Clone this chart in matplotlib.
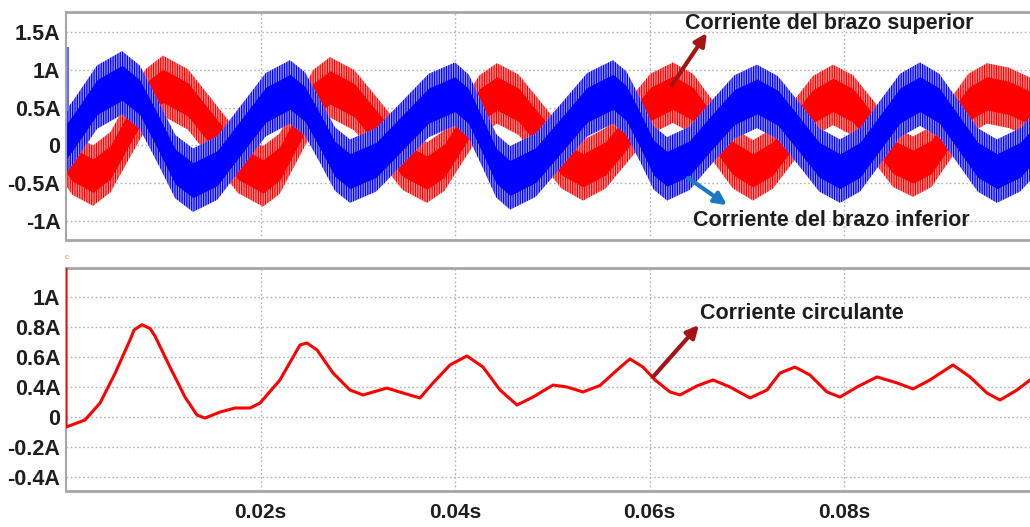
import numpy as np
import matplotlib
matplotlib.use("Agg")
import matplotlib.pyplot as plt

# ---- arm currents (band centre, A) -------------------------------------
lower_arm_t_ms = [0.00, 0.82, 3.19, 5.76, 7.58, 9.41, 11.23, 13.06, 15.55, 18.05,
                  20.54, 23.03, 24.58, 26.12, 27.66, 29.20, 31.90, 34.60, 37.30, 40.00,
                  41.41, 42.83, 44.24, 45.66, 48.30, 50.95, 53.60, 56.25, 57.63, 59.02,
                  60.41, 61.80, 64.11, 66.43, 68.74, 71.05, 73.19, 75.32, 77.45, 79.59,
                  81.65, 83.70, 85.76, 87.81, 89.79, 91.77, 93.75, 95.73, 98.10, 99.13,
                  100.57]
lower_arm_A = [0.05, 0.19, 0.64, 0.83, 0.64, 0.19, -0.28, -0.46, -0.30, 0.12,
               0.54, 0.71, 0.55, 0.19, -0.18, -0.34, -0.19, 0.17, 0.53, 0.68,
               0.52, 0.13, -0.27, -0.43, -0.26, 0.14, 0.54, 0.71, 0.56, 0.21,
               -0.16, -0.31, -0.17, 0.18, 0.51, 0.65, 0.50, 0.16, -0.19, -0.34,
               -0.19, 0.17, 0.53, 0.68, 0.53, 0.17, -0.19, -0.34, -0.19, -0.05,
               0.17]
lower_arm_ripple_A = 0.42
lower_arm_start_spike_A = 1.29

upper_arm_t_ms = [0.00, 0.62, 2.78, 4.58, 6.38, 8.17, 9.97, 12.54, 15.12, 17.69,
                  20.26, 21.98, 23.70, 25.42, 27.15, 29.64, 32.13, 34.63, 37.12, 38.92,
                  40.72, 42.52, 44.32, 46.53, 48.74, 50.95, 53.16, 55.48, 57.79, 60.10,
                  62.42, 64.47, 66.53, 68.59, 70.64, 72.70, 74.76, 76.81, 78.87, 80.93,
                  82.98, 85.04, 87.10, 89.00, 90.90, 92.80, 94.70, 96.97, 99.13, 100.57]
upper_arm_A = [-0.13, -0.25, -0.40, -0.22, 0.20, 0.61, 0.79, 0.61, 0.19, -0.23,
               -0.41, -0.24, 0.18, 0.60, 0.77, 0.60, 0.21, -0.19, -0.36, -0.20,
               0.17, 0.53, 0.69, 0.54, 0.19, -0.17, -0.33, -0.17, 0.19, 0.55,
               0.70, 0.55, 0.19, -0.17, -0.33, -0.17, 0.18, 0.52, 0.67, 0.53,
               0.20, -0.15, -0.28, -0.15, 0.21, 0.55, 0.69, 0.63, 0.50, 0.39]
upper_arm_ripple_A = 0.40

# ---- circulating current --------------------------------------------
circ_t_ms = [0.0, 0.0, 1.95, 3.50, 5.04, 6.58, 7.00, 7.81, 8.64, 9.15,
             10.69, 12.24, 13.47, 14.29, 15.84, 17.38, 18.92, 19.95, 22.00, 24.06,
             24.78, 25.81, 27.46, 29.20, 30.54, 33.00, 34.65, 36.40, 37.74, 39.49,
             41.23, 42.88, 44.63, 46.38, 48.02, 50.08, 51.52, 53.16, 54.91, 56.66,
             57.99, 59.33, 60.57, 62.11, 63.14, 64.88, 66.53, 68.28, 70.33, 72.08,
             73.42, 74.96, 76.50, 78.25, 79.59, 81.34, 83.39, 85.45, 87.10, 88.84,
             91.21, 92.96, 94.70, 96.04, 97.79, 99.13, 100.5]
circ_A = [1.25, 0.133, 0.18, 0.293, 0.49, 0.713, 0.78, 0.815, 0.79, 0.74,
          0.533, 0.333, 0.213, 0.193, 0.233, 0.26, 0.26, 0.293, 0.447, 0.68,
          0.693, 0.647, 0.493, 0.38, 0.347, 0.393, 0.36, 0.327, 0.427, 0.547,
          0.607, 0.533, 0.38, 0.28, 0.333, 0.413, 0.40, 0.367, 0.41, 0.513,
          0.587, 0.533, 0.447, 0.367, 0.347, 0.407, 0.447, 0.40, 0.327, 0.38,
          0.493, 0.533, 0.48, 0.367, 0.333, 0.40, 0.467, 0.427, 0.387, 0.447,
          0.547, 0.467, 0.36, 0.313, 0.38, 0.447, 0.50]

# ---- axes ticks -------------------------------------------------------
x_ticks_s = [0.02, 0.04, 0.06, 0.08]
x_tick_labels = ["0.02s", "0.04s", "0.06s", "0.08s"]
top_y_ticks = [1.5, 1.0, 0.5, 0.0, -0.5, -1.0]
top_y_labels = ["1.5A", "1A", "0.5A", "0", "-0.5A", "-1A"]
bot_y_ticks = [1.0, 0.8, 0.6, 0.4, 0.2, 0.0, -0.2]
bot_y_labels = ["1A", "0.8A", "0.6A", "0.4A", "0", "-0.2A", "-0.4A"]

FONT = "Liberation Sans"
TXT = "#1e1e1e"
GRID = "#b4b4b4"
SPINE = "#a6a6a6"
FS = 15.5

plt.rcParams["hatch.linewidth"] = 0.9

W, H = 1030, 527
fig = plt.figure(figsize=(W / 100, H / 100), dpi=100)
x0 = 66 / W
axw = 972.5 / W
ax1 = fig.add_axes([x0, 1 - 240 / H, axw, 228 / H])
ax2 = fig.add_axes([x0, 1 - 491 / H, axw, 223 / H])


def style(ax, yticks, ylabels, ylim, show_x):
    ax.set_xlim(0, 0.1)
    ax.set_ylim(*ylim)
    ax.set_yticks(yticks)
    ax.set_yticklabels(ylabels)
    ax.set_xticks(x_ticks_s)
    ax.set_xticklabels(x_tick_labels if show_x else [])
    ax.tick_params(length=0, pad=4)
    ax.tick_params(axis="x", pad=9)
    for lab in ax.get_yticklabels():
        lab.set_fontsize(FS)
    for lab in ax.get_yticklabels() + ax.get_xticklabels():
        lab.set_fontfamily(FONT)
        lab.set_fontweight("bold")
        lab.set_color(TXT)
    for lab in ax.get_xticklabels():
        lab.set_fontsize(15)
    ax.grid(True, color=GRID, linestyle=(0, (1.2, 1.8)), linewidth=1.0)
    ax.set_axisbelow(True)
    for side in ("top", "bottom"):
        ax.spines[side].set_color(SPINE)
        ax.spines[side].set_linewidth(2.0)
    ax.spines["left"].set_color(SPINE)
    ax.spines["left"].set_linewidth(1.5)
    ax.spines["right"].set_visible(False)


def band(ax, t_ms, centre, ripple, dark, light):
    t = np.asarray(t_ms) / 1000.0
    c = np.asarray(centre)
    ax.fill_between(t, c - ripple, c + ripple, facecolor=light, edgecolor=dark,
                    hatch="|||||||", linewidth=0, zorder=2)
    ax.fill_between(t, c - 0.55 * ripple, c + 0.55 * ripple, color=dark,
                    linewidth=0, zorder=2)


style(ax1, top_y_ticks, top_y_labels, (-1.252, 1.768), False)
band(ax1, upper_arm_t_ms, upper_arm_A, upper_arm_ripple_A, "#ff0000", "#ffa0a0")
band(ax1, lower_arm_t_ms, lower_arm_A, lower_arm_ripple_A, "#0000ff", "#a0a0ff")
ax1.plot([0.0002, 0.0002], [lower_arm_start_spike_A, lower_arm_A[0] + lower_arm_ripple_A],
         color="#6a6aff", lw=1.5, zorder=3)

style(ax2, bot_y_ticks, bot_y_labels, (-0.293, 1.193), True)
ax2.plot(np.asarray(circ_t_ms) / 1000.0, circ_A, color="#ff0000", lw=2.2,
         solid_joinstyle="round", zorder=3)

# annotations
ax1.annotate("", xy=(0.0659, 1.49), xytext=(0.0623, 0.80),
             arrowprops=dict(arrowstyle="-|>", color="#a31515", lw=3, mutation_scale=18,
                             shrinkA=0, shrinkB=0), zorder=5)
ax1.text(0.0637, 1.61, "Corriente del brazo superior", fontfamily=FONT,
         fontweight="bold", fontsize=FS, color=TXT, va="center", ha="left", zorder=5)
ax1.annotate("", xy=(0.06797, -0.79), xytext=(0.06396, -0.43),
             arrowprops=dict(arrowstyle="-|>", color="#1b78c2", lw=3, mutation_scale=18,
                             shrinkA=0, shrinkB=0), zorder=5)
ax1.text(0.06447, -0.99, "Corriente del brazo inferior", fontfamily=FONT,
         fontweight="bold", fontsize=FS, color=TXT, va="center", ha="left", zorder=5)

ax2.annotate("", xy=(0.06509, 0.813), xytext=(0.06036, 0.467),
             arrowprops=dict(arrowstyle="-|>", color="#a31515", lw=3, mutation_scale=18,
                             shrinkA=0, shrinkB=0), zorder=5)
ax2.text(0.06519, 0.893, "Corriente circulante", fontfamily=FONT,
         fontweight="bold", fontsize=FS, color=TXT, va="center", ha="left", zorder=5)

fig.text(67 / W, 1 - 257 / H, "c", color="#ff7070", fontsize=5, ha="center", va="center")

fig.savefig("out.png", dpi=100)
